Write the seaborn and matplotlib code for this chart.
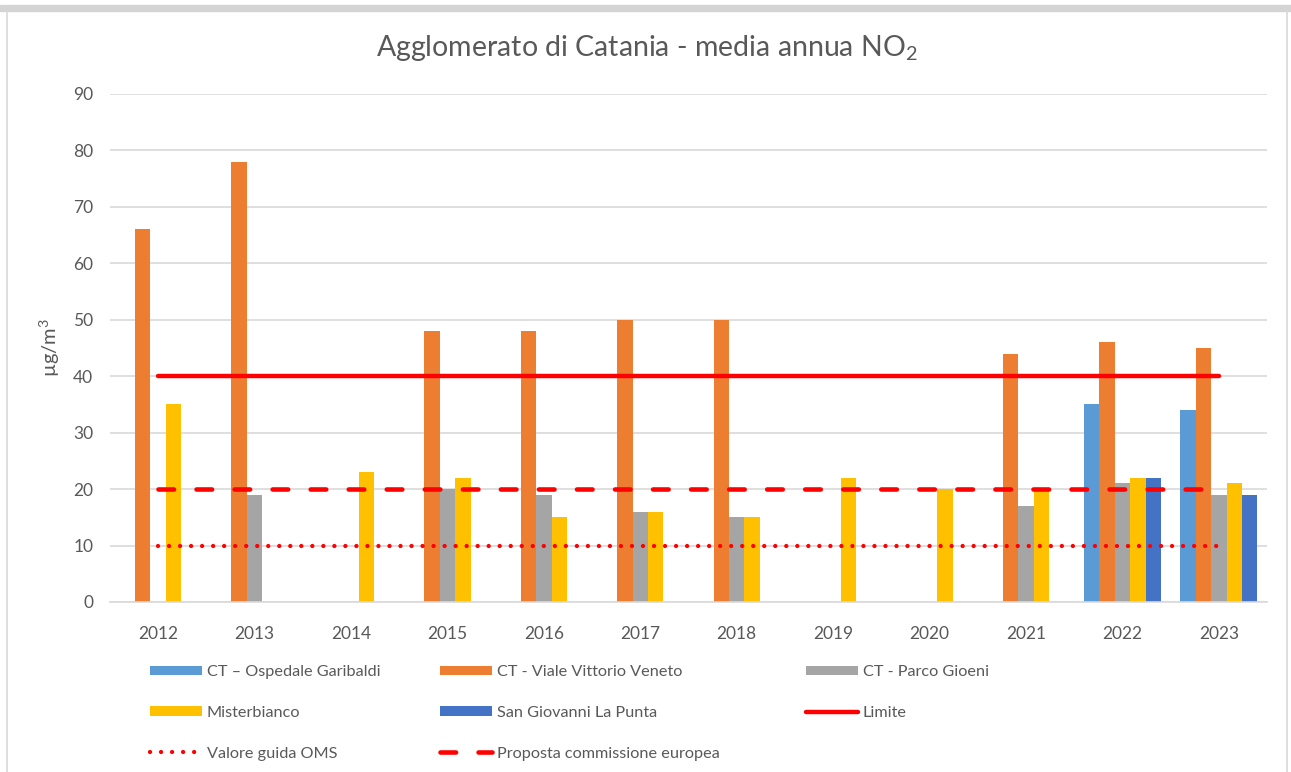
import numpy as np
import pandas as pd
import matplotlib
matplotlib.use("Agg")
import matplotlib.pyplot as plt
import seaborn as sns
from matplotlib.patches import Patch, Rectangle
from matplotlib.lines import Line2D

years = ["2012", "2013", "2014", "2015", "2016", "2017", "2018", "2019", "2020", "2021", "2022", "2023"]
stations = ["CT – Ospedale Garibaldi", "CT - Viale Vittorio Veneto", "CT - Parco Gioeni",
            "Misterbianco", "San Giovanni La Punta"]
nan = np.nan
garibaldi = [nan, nan, nan, nan, nan, nan, nan, nan, nan, nan, 35, 34]
veneto = [66, 78, nan, 48, 48, 50, 50, nan, nan, 44, 46, 45]
gioeni = [nan, 19, nan, 20, 19, 16, 15, nan, nan, 17, 21, 19]
misterbianco = [35, nan, 23, 22, 15, 16, 15, 22, 20, 20, 22, 21]
sglp = [nan, nan, nan, nan, nan, nan, nan, nan, nan, nan, 22, 19]
limite = [40] * 12
oms = [10] * 12
proposta = [20] * 12
line_labels = ["Limite", "Valore guida OMS", "Proposta commissione europea"]
yticks = [0, 10, 20, 30, 40, 50, 60, 70, 80, 90]

colors = ["#5B9BD5", "#ED7D31", "#A5A5A5", "#FFC000", "#4472C4"]
red = "#FF0000"
txt = "#595959"

rows = []
for st, vals in zip(stations, [garibaldi, veneto, gioeni, misterbianco, sglp]):
    for y, v in zip(years, vals):
        rows.append({"Anno": y, "Stazione": st, "Valore": v})
df = pd.DataFrame(rows)

sns.set_theme(style="white")
plt.rcParams["font.family"] = ["Lato", "DejaVu Sans"]
plt.rcParams["mathtext.fontset"] = "custom"
plt.rcParams["mathtext.rm"] = "Lato"
plt.rcParams["mathtext.it"] = "Lato"
plt.rcParams["mathtext.bf"] = "Lato:bold"

W, H = 1291, 772
fig = plt.figure(figsize=(W / 100, H / 100), dpi=100)
ax = fig.add_axes([110 / W, 1 - 602 / H, (1267 - 110) / W, (602 - 94) / H])

sns.barplot(data=df, x="Anno", y="Valore", hue="Stazione", order=years, hue_order=stations,
            palette=colors, saturation=1, width=0.8, gap=0, errorbar=None, legend=False,
            linewidth=0, ax=ax, zorder=2)

xpos = np.arange(len(years))
ax.plot(xpos, limite, color=red, lw=3.2, solid_capstyle="round", zorder=3)
ax.plot(xpos, proposta, color=red, lw=3.3, linestyle=(0, (3.4, 4.9)), dash_capstyle="round", zorder=3)
ax.plot(xpos, oms, color=red, lw=3.1, linestyle=(0, (0.01, 2.55)), dash_capstyle="round", zorder=3)

ax.set_ylim(0, 90)
ax.set_xlim(-0.5, len(years) - 0.5)
ax.set_yticks(yticks)
ax.grid(axis="y", color="#D9D9D9", lw=1.2, zorder=0)
ax.set_axisbelow(True)
for s in ["top", "right", "left"]:
    ax.spines[s].set_visible(False)
ax.spines["bottom"].set_color("#D9D9D9")
ax.spines["bottom"].set_linewidth(1.2)
ax.tick_params(axis="both", length=0, colors=txt, labelsize=12.5)
ax.tick_params(axis="x", pad=17)
ax.tick_params(axis="y", pad=12)
ax.set_xlabel("")
ax.set_ylabel(r"µg/m$^3$", color=txt, fontsize=14.5, labelpad=8)

fig.text(647 / W, 1 - 48 / H, r"Agglomerato di Catania - media annua NO$_2$", ha="center", va="center",
         fontsize=20.5, color=txt)

# frame
fig.patches.append(Rectangle((0, 1 - 11 / H), 1, 6 / H, transform=fig.transFigure,
                             color="#D4D4D4", zorder=0))
fig.lines.append(Line2D([7 / W, 7 / W], [0, 1 - 11 / H], transform=fig.transFigure, color="#D9D9D9", lw=1.2))
fig.lines.append(Line2D([1287 / W, 1287 / W], [0, 1 - 11 / H], transform=fig.transFigure, color="#D9D9D9", lw=1.2))

hb = [Patch(facecolor=c, edgecolor="none") for c in colors]
h_lim = Line2D([], [], color=red, lw=3.2, solid_capstyle="round")
h_oms = Line2D([], [], color=red, lw=3.1, linestyle=(0, (0.01, 2.55)), dash_capstyle="round")
h_prop = Line2D([], [], color=red, lw=3.3, linestyle=(0, (3.4, 4.9)), dash_capstyle="round")

cols = [
    ([hb[0], hb[3], h_oms], [stations[0], stations[3], line_labels[1]], 150),
    ([hb[1], hb[4], h_prop], [stations[1], stations[4], line_labels[2]], 440),
    ([hb[2], h_lim], [stations[2], line_labels[0]], 806),
]
for hs, ls, xp in cols:
    leg = fig.legend(hs, ls, loc="upper left", bbox_to_anchor=(xp / W, 1 - 665 / H),
                     frameon=False, borderpad=0, borderaxespad=0, fontsize=11.7,
                     handlelength=3.2, handleheight=0.5, handletextpad=0.3, labelspacing=1.65)
    for t in leg.get_texts():
        t.set_color(txt)

fig.savefig("out.png", dpi=100)
